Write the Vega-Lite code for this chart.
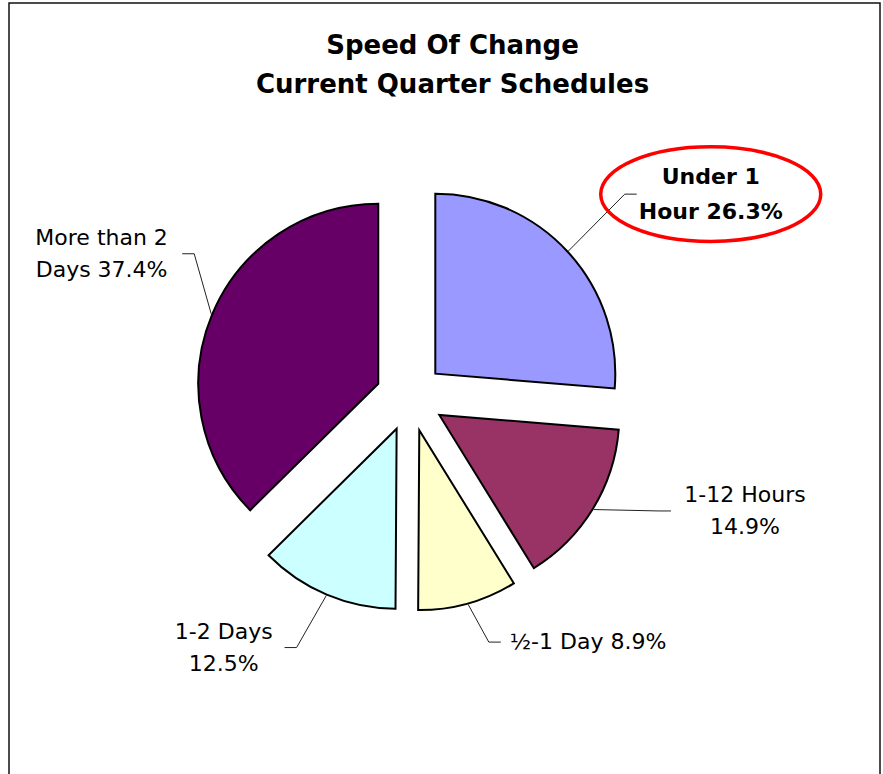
{
  "$schema": "https://vega.github.io/schema/vega-lite/v6.json",
  "width": 871,
  "height": 775,
  "autosize": {"type": "none"},
  "padding": {"left": 9, "top": 3, "right": 3, "bottom": 0},
  "background": "white",
  "config": {"view": {"stroke": "#111111", "strokeWidth": 1.5}, "font": "DejaVu Sans"},
  "title": {
    "text": ["Speed Of Change", "Current Quarter Schedules"],
    "font": "DejaVu Sans",
    "fontSize": 26,
    "fontWeight": "bold",
    "color": "#000000",
    "anchor": "middle",
    "frame": "group",
    "baseline": "top",
    "lineHeight": 39,
    "offset": -95,
    "dx": 8
  },
  "data": {
    "values": [
      {"cat": "Under 1 Hour", "pct": 26.3, "label": "Under 1\nHour 26.3%"},
      {"cat": "1-12 Hours", "pct": 14.9, "label": "1-12 Hours\n14.9%"},
      {"cat": "½-1 Day", "pct": 8.9, "label": "½-1 Day 8.9%"},
      {"cat": "1-2 Days", "pct": 12.5, "label": "1-2 Days\n12.5%"},
      {"cat": "More than 2 Days", "pct": 37.4, "label": "More than 2\nDays 37.4%"}
    ]
  },
  "transform": [
    {"window": [{"op": "sum", "field": "pct", "as": "cum"}]},
    {"calculate": "datum.cum - datum.pct", "as": "a0"},
    {"calculate": "(datum.cum - datum.pct / 2) / 100 * 2 * PI", "as": "mid"},
    {"calculate": "34.4 * sin(datum.mid)", "as": "ox"},
    {"calculate": "34.4 * cos(datum.mid)", "as": "oy"},
    {"calculate": "datum.ox + 181 * sin(datum.mid)", "as": "px"},
    {"calculate": "datum.oy + 181 * cos(datum.mid)", "as": "py"},
    {"calculate": "sin(datum.mid) >= 0 ? 1 : -1", "as": "side"},
    {"calculate": "max(length(split(datum.label, '\\n')[0]), length(split(datum.label + '\\n', '\\n')[1]))", "as": "nch"},
    {"calculate": "length(split(datum.label, '\\n'))", "as": "nlines"},
    {"calculate": "datum.nch * 6.6", "as": "hw"},
    {"calculate": "clamp(292 * sin(datum.mid) + datum.side * (20 + datum.hw), -381 + datum.hw, 460 - datum.hw)", "as": "lx"},
    {"calculate": "datum.lx - datum.side * (20 + datum.hw)", "as": "bx"},
    {"calculate": "datum.bx + datum.side * 12", "as": "tx"},
    {"calculate": "23 + 286 * cos(datum.mid) - 14 * sin(2 * datum.mid)", "as": "by"},
    {"calculate": "datum.by + (datum.nlines - 1) * 16", "as": "ly"},
    {"calculate": "datum.by + (datum.nlines - 1) * 17.5", "as": "lyb"}
  ],
  "layer": [
    {
      "mark": {"type": "arc", "outerRadius": 180, "stroke": "#000000", "strokeWidth": 2},
      "encoding": {
        "x": {"field": "ox", "type": "quantitative", "scale": {"domain": [-401, 470], "nice": false, "zero": false}, "axis": null},
        "y": {"field": "oy", "type": "quantitative", "scale": {"domain": [-381, 394], "nice": false, "zero": false}, "axis": null},
        "theta": {"field": "a0", "type": "quantitative", "stack": null, "scale": {"domain": [0, 100]}},
        "theta2": {"field": "cum"},
        "color": {
          "field": "cat",
          "type": "nominal",
          "scale": {
            "domain": ["Under 1 Hour", "1-12 Hours", "½-1 Day", "1-2 Days", "More than 2 Days"],
            "range": ["#9999FF", "#993366", "#FFFFCC", "#CCFFFF", "#660066"]
          },
          "legend": null
        }
      }
    },
    {
      "mark": {"type": "rule", "color": "#222222", "strokeWidth": 1},
      "encoding": {
        "x": {"field": "px", "type": "quantitative", "scale": {"domain": [-401, 470], "nice": false, "zero": false}, "axis": null},
        "y": {"field": "py", "type": "quantitative", "scale": {"domain": [-381, 394], "nice": false, "zero": false}, "axis": null},
        "x2": {"field": "bx"},
        "y2": {"field": "by"}
      }
    },
    {
      "mark": {"type": "rule", "color": "#222222", "strokeWidth": 1},
      "encoding": {
        "x": {"field": "bx", "type": "quantitative", "scale": {"domain": [-401, 470], "nice": false, "zero": false}, "axis": null},
        "y": {"field": "by", "type": "quantitative", "scale": {"domain": [-381, 394], "nice": false, "zero": false}, "axis": null},
        "x2": {"field": "tx"},
        "y2": {"field": "by"}
      }
    },
    {
      "transform": [{"filter": "datum.cat != 'Under 1 Hour'"}],
      "mark": {"type": "text", "font": "DejaVu Sans", "fontSize": 22, "lineBreak": "\n", "lineHeight": 32, "align": "center", "baseline": "middle", "color": "#000000"},
      "encoding": {
        "x": {"field": "lx", "type": "quantitative", "scale": {"domain": [-401, 470], "nice": false, "zero": false}, "axis": null},
        "y": {"field": "ly", "type": "quantitative", "scale": {"domain": [-381, 394], "nice": false, "zero": false}, "axis": null},
        "text": {"field": "label"}
      }
    },
    {
      "transform": [{"filter": "datum.cat == 'Under 1 Hour'"}],
      "mark": {"type": "text", "font": "DejaVu Sans", "fontSize": 22, "fontWeight": "bold", "lineBreak": "\n", "lineHeight": 35, "align": "center", "baseline": "middle", "color": "#000000"},
      "encoding": {
        "x": {"field": "lx", "type": "quantitative", "scale": {"domain": [-401, 470], "nice": false, "zero": false}, "axis": null},
        "y": {"field": "lyb", "type": "quantitative", "scale": {"domain": [-381, 394], "nice": false, "zero": false}, "axis": null},
        "text": {"field": "label"}
      }
    },
    {
      "transform": [{"filter": "datum.cat == 'Under 1 Hour'"}],
      "mark": {
        "type": "point",
        "shape": "M-1,0C-1,-0.2375 -0.5523,-0.43 0,-0.43C0.5523,-0.43 1,-0.2375 1,0C1,0.2375 0.5523,0.43 0,0.43C-0.5523,0.43 -1,0.2375 -1,0Z",
        "size": 48400,
        "filled": false,
        "stroke": "#FF0000",
        "strokeWidth": 3.5,
        "opacity": 1
      },
      "encoding": {
        "x": {"field": "lx", "type": "quantitative", "scale": {"domain": [-401, 470], "nice": false, "zero": false}, "axis": null},
        "y": {"field": "by", "type": "quantitative", "scale": {"domain": [-381, 394], "nice": false, "zero": false}, "axis": null}
      }
    }
  ]
}
